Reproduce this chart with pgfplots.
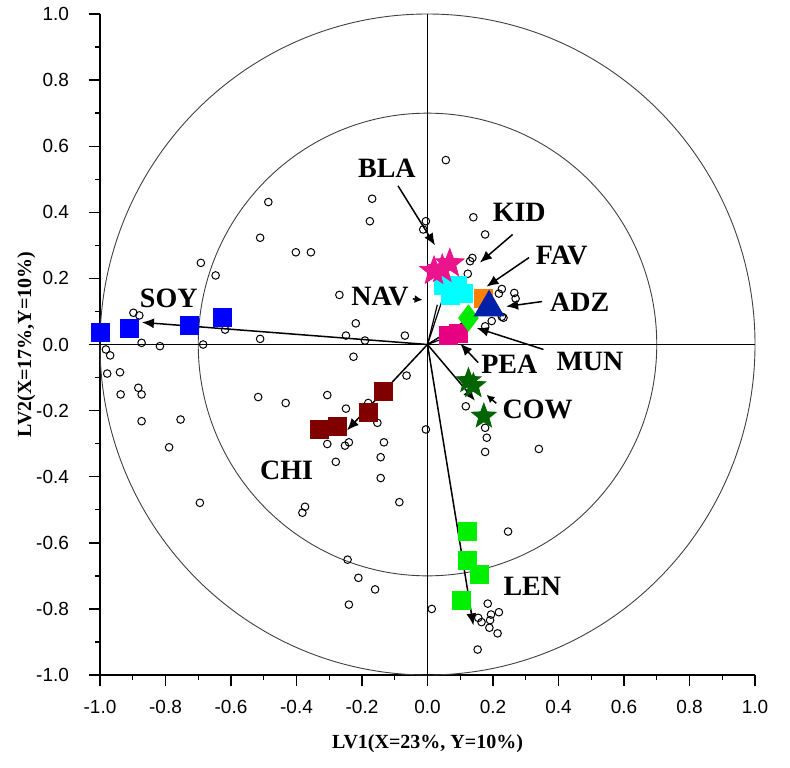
\documentclass[border=0pt]{standalone}
\usepackage{pgfplots}
\pgfplotsset{compat=1.18}
\usepackage{fontspec}
\setmainfont{Liberation Serif}
\setsansfont{Liberation Sans}
\usetikzlibrary{arrows.meta}

\definecolor{soyc}{RGB}{0,0,255}
\definecolor{chic}{RGB}{128,0,0}
\definecolor{lenc}{RGB}{0,240,0}
\definecolor{cowc}{RGB}{0,100,0}
\definecolor{blac}{RGB}{236,20,140}
\definecolor{kidc}{RGB}{0,255,255}
\definecolor{navc}{RGB}{255,255,0}
\definecolor{favc}{RGB}{255,128,0}
\definecolor{adzc}{RGB}{0,32,170}
\definecolor{munc}{RGB}{0,235,0}
\definecolor{peac}{RGB}{232,0,130}

\pgfdeclareplotmark{fstar}{%
  \pgfpathmoveto{\pgfpointpolar{90}{\pgfplotmarksize}}%
  \pgfpathlineto{\pgfpointpolar{126}{0.42\pgfplotmarksize}}%
  \pgfpathlineto{\pgfpointpolar{162}{\pgfplotmarksize}}%
  \pgfpathlineto{\pgfpointpolar{198}{0.42\pgfplotmarksize}}%
  \pgfpathlineto{\pgfpointpolar{234}{\pgfplotmarksize}}%
  \pgfpathlineto{\pgfpointpolar{270}{0.42\pgfplotmarksize}}%
  \pgfpathlineto{\pgfpointpolar{306}{\pgfplotmarksize}}%
  \pgfpathlineto{\pgfpointpolar{342}{0.42\pgfplotmarksize}}%
  \pgfpathlineto{\pgfpointpolar{18}{\pgfplotmarksize}}%
  \pgfpathlineto{\pgfpointpolar{54}{0.42\pgfplotmarksize}}%
  \pgfpathclose
  \pgfusepathqfillstroke}

\tikzset{lab/.style={font=\fontsize{14}{16}\selectfont\bfseries, text=black, inner sep=0pt}}

\begin{document}
\begin{tikzpicture}
\begin{axis}[
  scale only axis, width=327.5pt, height=330.5pt,
  xmin=-1, xmax=1, ymin=-1, ymax=1,
  axis x line*=bottom, axis y line*=left,
  axis line style={line width=0.8pt, -},
  xtick={-1,-0.8,-0.6,-0.4,-0.2,0,0.2,0.4,0.6,0.8,1},
  ytick={-1,-0.8,-0.6,-0.4,-0.2,0,0.2,0.4,0.6,0.8,1},
  xticklabels={-1.0,-0.8,-0.6,-0.4,-0.2,0.0,0.2,0.4,0.6,0.8,1.0},
  yticklabels={-1.0,-0.8,-0.6,-0.4,-0.2,0.0,0.2,0.4,0.6,0.8,1.0},
  minor tick num=1,
  tick align=outside,
  major tick length=5.5pt, minor tick length=2.5pt,
  tick style={black, line width=0.7pt},
  ticklabel style={font=\fontsize{9.5}{10}\selectfont\sffamily},
  xticklabel shift=3.5pt,
  yticklabel shift=6.5pt,
  xlabel shift=3.5pt,
  ylabel shift=-6.5pt,
  xlabel={LV1(X=23\%, Y=10\%)},
  ylabel={LV2(X=17\%,Y=10\%)},
  label style={font=\fontsize{10}{12}\selectfont\bfseries},
  clip=false,
]
% guide circles
\draw[black!75, line width=0.45pt] (axis cs:0,0) circle [radius=1];
\draw[black!75, line width=0.45pt] (axis cs:0,0) circle [radius=0.7];
% zero lines
\addplot[black, line width=0.6pt] coordinates {(-1,0) (1,0)};
\addplot[black, line width=0.6pt] coordinates {(0,-1) (0,1)};

% arrows from origin
\addplot[black, line width=0.75pt, -{Latex[length=6pt,width=5pt]}] coordinates {(0,0) (-0.872,0.067)};
\addplot[black, line width=0.75pt, -{Latex[length=6pt,width=5pt]}] coordinates {(0,0) (-0.246,-0.26)};
\addplot[black, line width=0.75pt, -{Latex[length=6pt,width=5pt]}] coordinates {(0,0) (0.14,-0.85)};
\addplot[black, line width=0.75pt, -{Latex[length=6pt,width=5pt]}] coordinates {(0,0) (0.145,-0.17)};
\addplot[black, line width=0.6pt] coordinates {(0,0) (0.03,0.12)};
\addplot[black, line width=0.6pt] coordinates {(0,0) (0.05,0.15)};
\addplot[black, line width=0.6pt] coordinates {(0,0) (0.08,0.03)};
\addplot[black, line width=0.6pt] coordinates {(0,0) (0.13,0.08)};
\addplot[black, line width=0.6pt] coordinates {(0,0) (0.18,0.11)};

% open circles (variables)
\addplot[only marks, mark=o, mark size=1.9pt, mark options={black, line width=0.5pt}] coordinates {
(-0.486,0.431) (-0.169,0.441) (-0.176,0.373) (-0.511,0.323) (-0.402,0.279)
(-0.356,0.279) (-0.692,0.247) (-0.647,0.209) (-0.269,0.150) (-0.219,0.064)
(-0.069,0.027) (-0.249,0.027) (-0.191,0.012) (-0.511,0.017) (-0.618,0.045)
(-0.898,0.096) (-0.880,0.088) (-0.873,0.005) (-0.817,-0.005) (-0.685,0.0)
(-0.013,0.348) (-0.005,0.373)
(-0.982,-0.015) (-0.969,-0.033) (-0.978,-0.088) (-0.939,-0.084) (-0.937,-0.151)
(-0.883,-0.131) (-0.873,-0.151) (-0.873,-0.232) (-0.754,-0.227) (-0.789,-0.311)
(-0.695,-0.479) (-0.517,-0.159) (-0.433,-0.177) (-0.226,-0.037) (-0.306,-0.153)
(-0.249,-0.194) (-0.064,-0.094) (-0.181,-0.177) (-0.153,-0.237) (-0.133,-0.296)
(-0.306,-0.301) (-0.252,-0.306) (-0.240,-0.296) (-0.280,-0.355) (-0.143,-0.341)
(-0.143,-0.404) (-0.086,-0.477) (-0.374,-0.491) (-0.382,-0.509) (-0.244,-0.651)
(-0.211,-0.706) (-0.160,-0.741) (-0.240,-0.787) (-0.005,-0.257)
(0.117,-0.187) (0.176,-0.252) (0.181,-0.282) (0.176,-0.325) (0.340,-0.316)
(0.246,-0.566) (0.013,-0.800) (0.184,-0.784) (0.218,-0.810) (0.194,-0.817)
(0.155,-0.827) (0.165,-0.840) (0.191,-0.834) (0.189,-0.857) (0.214,-0.874)
(0.153,-0.923)
(0.056,0.558) (0.140,0.385) (0.176,0.333) (0.130,0.252) (0.137,0.262)
(0.123,0.214) (0.227,0.168) (0.218,0.154) (0.265,0.156) (0.269,0.139)
(0.227,0.084) (0.196,0.071) (0.176,0.055) (0.232,0.081)
};

% samples
\addplot[only marks, mark=square*, mark size=4.5pt, mark options={draw=soyc, fill=soyc}] coordinates {
(-0.998,0.036) (-0.911,0.048) (-0.728,0.057) (-0.627,0.082)};
\addplot[only marks, mark=square*, mark size=4.5pt, mark options={draw=chic, fill=chic}] coordinates {
(-0.331,-0.257) (-0.276,-0.248) (-0.179,-0.205) (-0.135,-0.142)};
\addplot[only marks, mark=square*, mark size=4.5pt, mark options={draw=lenc, fill=lenc}] coordinates {
(0.121,-0.566) (0.121,-0.654) (0.157,-0.696) (0.102,-0.775)};
\addplot[only marks, mark=fstar, mark size=6.5pt, mark options={draw=cowc, fill=cowc}] coordinates {
(0.125,-0.110) (0.140,-0.125) (0.172,-0.217)};
\addplot[only marks, mark=circle*, mark size=4.5pt, mark options={draw=navc, fill=navc}] coordinates {
(0.022,0.135) (0.030,0.115)};
\addplot[only marks, mark=square*, mark size=4.5pt, mark options={draw=kidc, fill=kidc}] coordinates {
(0.050,0.180) (0.090,0.180) (0.070,0.150) (0.110,0.155)};
\addplot[only marks, mark=fstar, mark size=7.5pt, mark options={draw=blac, fill=blac}] coordinates {
(0.020,0.222) (0.045,0.228) (0.068,0.245)};
\addplot[only marks, mark=square*, mark size=4.5pt, mark options={draw=peac, fill=peac}] coordinates {
(0.065,0.028) (0.095,0.035)};
\addplot[only marks, mark=diamond*, mark size=6.5pt, mark options={draw=munc, fill=munc}] coordinates {
(0.125,0.080)};
\addplot[only marks, mark=square*, mark size=4.5pt, mark options={draw=favc, fill=favc}] coordinates {
(0.172,0.140)};
\addplot[only marks, mark=triangle*, mark size=8.5pt, mark options={draw=adzc, fill=adzc}] coordinates {
(0.188,0.112)};

% label arrows
\addplot[black, line width=0.75pt, -{Latex[length=6pt,width=5pt]}] coordinates {(-0.09,0.48) (0.023,0.30)};
\addplot[black, line width=0.75pt, -{Latex[length=6pt,width=5pt]}] coordinates {(0.26,0.333) (0.16,0.248)};
\addplot[black, line width=0.75pt, -{Latex[length=6pt,width=5pt]}] coordinates {(0.31,0.263) (0.18,0.175)};
\addplot[black, line width=0.75pt, -{Latex[length=6pt,width=5pt]}] coordinates {(0.35,0.13) (0.24,0.115)};
\addplot[black, line width=0.75pt, -{Latex[length=6pt,width=5pt]}] coordinates {(0.354,-0.015) (0.15,0.05)};
\addplot[black, line width=0.75pt, -{Latex[length=6pt,width=5pt]}] coordinates {(0.155,-0.055) (0.10,0.003)};
\addplot[black, line width=0.75pt, -{Latex[length=4pt,width=4pt]}] coordinates {(-0.045,0.138) (-0.015,0.135)};
\addplot[black, line width=0.75pt, -{Latex[length=4pt,width=4pt]}] coordinates {(0.21,-0.178) (0.18,-0.152)};

% labels
\node[lab] at (axis cs:-0.79,0.14) {SOY};
\node[lab] at (axis cs:-0.43,-0.38) {CHI};
\node[lab] at (axis cs:0.32,-0.732) {LEN};
\node[lab] at (axis cs:0.336,-0.197) {COW};
\node[lab] at (axis cs:0.25,-0.06) {PEA};
\node[lab] at (axis cs:0.496,-0.05) {MUN};
\node[lab] at (axis cs:0.465,0.127) {ADZ};
\node[lab] at (axis cs:0.41,0.27) {FAV};
\node[lab] at (axis cs:0.28,0.40) {KID};
\node[lab] at (axis cs:-0.124,0.533) {BLA};
\node[lab] at (axis cs:-0.145,0.145) {NAV};
\end{axis}
\pgfresetboundingbox
\useasboundingbox ([shift={(-50pt,-46pt)}]current axis.south west) rectangle ([shift={(17.5pt,7pt)}]current axis.north east);
\end{tikzpicture}
\end{document}
